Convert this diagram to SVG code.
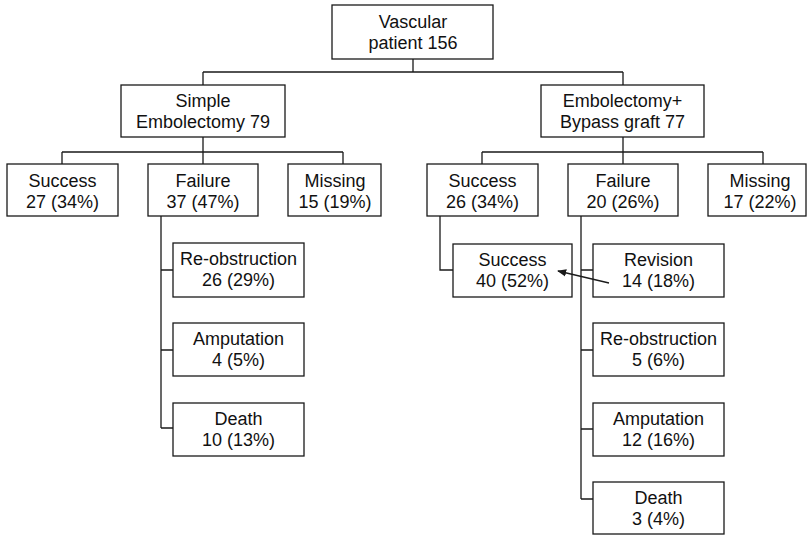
<svg xmlns="http://www.w3.org/2000/svg" width="811" height="537" viewBox="0 0 811 537">
<defs>
<style>
.b{fill:#fff;stroke:#1a1a1a;stroke-width:1.3}
.t{font-family:"Liberation Sans",Arial,sans-serif;font-size:18px;fill:#111;text-anchor:middle}
.c{fill:none;stroke:#1a1a1a;stroke-width:1.3}
</style>
<marker id="ah" viewBox="0 0 10 10" refX="9" refY="5" markerWidth="7" markerHeight="7" orient="auto">
<path d="M0,1 L10,5 L0,9 Z" fill="#1a1a1a"/>
</marker>
</defs>
<rect width="811" height="537" fill="#fff"/>
<g id="vascular"><rect class="b" x="332" y="5" width="161" height="54"/><text class="t" x="413" y="28">Vascular</text><text class="t" x="413" y="49">patient 156</text></g>
<g id="simple"><rect class="b" x="121" y="85" width="164" height="52"/><text class="t" x="203" y="107">Simple</text><text class="t" x="203" y="128">Embolectomy 79</text></g>
<g id="bypass"><rect class="b" x="541" y="85" width="163" height="52"/><text class="t" x="622.5" y="107">Embolectomy+</text><text class="t" x="622.5" y="128">Bypass graft 77</text></g>
<g id="s-success"><rect class="b" x="7" y="164" width="111" height="52"/><text class="t" x="62.5" y="187">Success</text><text class="t" x="62.5" y="208">27 (34%)</text></g>
<g id="s-failure"><rect class="b" x="148" y="164" width="110" height="52"/><text class="t" x="203" y="187">Failure</text><text class="t" x="203" y="208">37 (47%)</text></g>
<g id="s-missing"><rect class="b" x="288" y="164" width="93" height="52"/><text class="t" x="335" y="187">Missing</text><text class="t" x="335" y="208">15 (19%)</text></g>
<g id="b-success"><rect class="b" x="427" y="164" width="111" height="52"/><text class="t" x="482.5" y="187">Success</text><text class="t" x="482.5" y="208">26 (34%)</text></g>
<g id="b-failure"><rect class="b" x="568" y="164" width="110" height="52"/><text class="t" x="623" y="187">Failure</text><text class="t" x="623" y="208">20 (26%)</text></g>
<g id="b-missing"><rect class="b" x="708" y="164" width="98" height="52"/><text class="t" x="760" y="187">Missing</text><text class="t" x="760" y="208">17 (22%)</text></g>
<g id="s-reobstruction"><rect class="b" x="173" y="243" width="131" height="54"/><text class="t" x="238.5" y="265">Re-obstruction</text><text class="t" x="238.5" y="286">26 (29%)</text></g>
<g id="s-amputation"><rect class="b" x="173" y="323" width="131" height="53"/><text class="t" x="238.5" y="345">Amputation</text><text class="t" x="238.5" y="366">4 (5%)</text></g>
<g id="s-death"><rect class="b" x="173" y="403" width="131" height="53"/><text class="t" x="238.5" y="425">Death</text><text class="t" x="238.5" y="446">10 (13%)</text></g>
<g id="b-success2"><rect class="b" x="453" y="244" width="119" height="53"/><text class="t" x="512.5" y="266">Success</text><text class="t" x="512.5" y="287">40 (52%)</text></g>
<g id="b-revision"><rect class="b" x="593" y="244" width="131" height="53"/><text class="t" x="658.5" y="266">Revision</text><text class="t" x="658.5" y="287">14 (18%)</text></g>
<g id="b-reobstruction"><rect class="b" x="593" y="323" width="131" height="53"/><text class="t" x="658.5" y="345">Re-obstruction</text><text class="t" x="658.5" y="366">5 (6%)</text></g>
<g id="b-amputation"><rect class="b" x="593" y="403" width="131" height="53"/><text class="t" x="658.5" y="425">Amputation</text><text class="t" x="658.5" y="446">12 (16%)</text></g>
<g id="b-death"><rect class="b" x="593" y="482" width="131" height="52"/><text class="t" x="658.5" y="504">Death</text><text class="t" x="658.5" y="525">3 (4%)</text></g>
<g id="connectors">
<path class="c" d="M413,59V72M203,72H623M203,72V85M623,72V85"/>
<path class="c" d="M203,137V152M62,152H343M62,152V164M203,152V164M343,152V164"/>
<path class="c" d="M623,137V152M482,152H763M482,152V164M623,152V164M763,152V164"/>
<path class="c" d="M161,216V428M161,270H173M161,350H173M161,428H173"/>
<path class="c" d="M440,216V270H453"/>
<path class="c" d="M581,216V499M581,270H593M581,350H593M581,429H593M581,499H593"/>
<line class="c" x1="609" y1="283" x2="558" y2="271" marker-end="url(#ah)"/>
</g>
</svg>
